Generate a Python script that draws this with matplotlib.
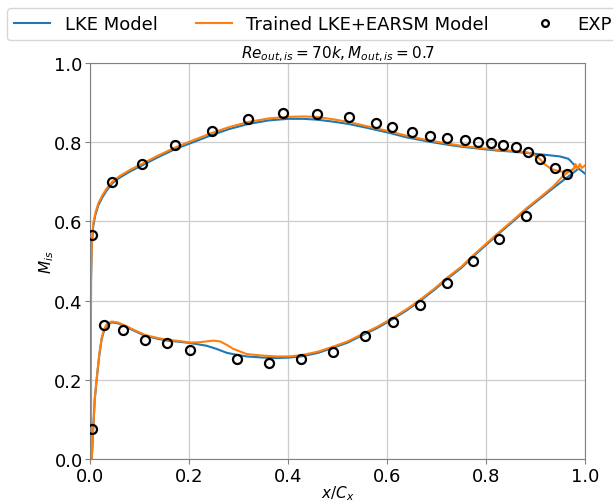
import matplotlib.pyplot as plt
import numpy as np

# suction side, LKE model
ss_lke_x = [0.003, 0.0015, 0.0012, 0.0015, 0.003, 0.006, 0.010, 0.016, 0.024, 0.033, 0.045, 0.060, 0.080,
            0.104, 0.135, 0.172, 0.210, 0.245, 0.280, 0.319, 0.360, 0.400, 0.430, 0.457, 0.490, 0.522,
            0.560, 0.599, 0.640, 0.686, 0.720, 0.754, 0.790, 0.821, 0.855, 0.888, 0.920, 0.949, 0.966,
            0.976, 0.986, 1.000]
ss_lke_y = [0.000, 0.100, 0.300, 0.450, 0.539, 0.589, 0.615, 0.640, 0.660, 0.678, 0.697, 0.711, 0.726,
            0.741, 0.761, 0.783, 0.801, 0.818, 0.833, 0.846, 0.855, 0.859, 0.859, 0.857, 0.852, 0.846,
            0.836, 0.825, 0.812, 0.801, 0.794, 0.788, 0.783, 0.779, 0.776, 0.772, 0.768, 0.764, 0.758,
            0.745, 0.734, 0.720]

# pressure side, LKE model
ps_lke_x = [0.003, 0.006, 0.009, 0.013, 0.018, 0.023, 0.028, 0.033, 0.043, 0.055, 0.067, 0.090, 0.111,
            0.135, 0.155, 0.180, 0.201, 0.235, 0.255, 0.276, 0.296, 0.316, 0.350, 0.377, 0.400, 0.426,
            0.460, 0.491, 0.520, 0.552, 0.580, 0.612, 0.640, 0.667, 0.695, 0.721, 0.750, 0.774, 0.800,
            0.826, 0.855, 0.881, 0.908, 0.935, 0.960, 0.975, 0.985]
ps_lke_y = [0.000, 0.076, 0.150, 0.202, 0.260, 0.303, 0.325, 0.337, 0.345, 0.343, 0.337, 0.323, 0.311,
            0.304, 0.299, 0.296, 0.293, 0.286, 0.278, 0.268, 0.263, 0.259, 0.256, 0.255, 0.256, 0.259,
            0.268, 0.281, 0.294, 0.314, 0.331, 0.354, 0.376, 0.400, 0.427, 0.455, 0.483, 0.512, 0.541,
            0.570, 0.601, 0.630, 0.657, 0.684, 0.708, 0.722, 0.732]

# suction side, trained LKE+EARSM
ss_tr_x = [0.003, 0.0015, 0.0012, 0.0015, 0.003, 0.006, 0.010, 0.016, 0.024, 0.033, 0.045, 0.060, 0.080,
           0.104, 0.135, 0.172, 0.210, 0.245, 0.280, 0.319, 0.360, 0.400, 0.430, 0.457, 0.490, 0.522,
           0.560, 0.599, 0.640, 0.686, 0.720, 0.754, 0.790, 0.821, 0.855, 0.884, 0.896, 0.909, 0.915,
           0.932, 0.949, 0.966, 0.976, 0.980, 0.985, 0.989, 0.993, 1.000]
ss_tr_y = [0.000, 0.100, 0.300, 0.460, 0.545, 0.595, 0.620, 0.645, 0.665, 0.683, 0.701, 0.715, 0.730,
           0.745, 0.765, 0.787, 0.806, 0.823, 0.838, 0.851, 0.860, 0.864, 0.865, 0.864, 0.858, 0.851,
           0.840, 0.829, 0.816, 0.804, 0.797, 0.790, 0.785, 0.781, 0.778, 0.774, 0.768, 0.757, 0.747,
           0.732, 0.726, 0.726, 0.731, 0.745, 0.733, 0.745, 0.735, 0.742]

# pressure side, trained LKE+EARSM
ps_tr_x = [0.003, 0.006, 0.009, 0.013, 0.018, 0.023, 0.028, 0.033, 0.043, 0.055, 0.067, 0.090, 0.111,
           0.135, 0.155, 0.180, 0.201, 0.222, 0.235, 0.249, 0.262, 0.276, 0.289, 0.316, 0.350, 0.377,
           0.400, 0.426, 0.460, 0.491, 0.520, 0.552, 0.580, 0.612, 0.640, 0.667, 0.695, 0.721, 0.750,
           0.774, 0.800, 0.826, 0.855, 0.881, 0.908, 0.935, 0.956, 0.970, 0.980]
ps_tr_y = [0.000, 0.078, 0.152, 0.205, 0.263, 0.306, 0.328, 0.340, 0.347, 0.345, 0.339, 0.325, 0.313,
           0.306, 0.301, 0.298, 0.294, 0.295, 0.297, 0.299, 0.297, 0.288, 0.278, 0.265, 0.261, 0.259,
           0.259, 0.262, 0.271, 0.284, 0.297, 0.317, 0.334, 0.357, 0.379, 0.403, 0.430, 0.458, 0.486,
           0.515, 0.544, 0.573, 0.604, 0.633, 0.660, 0.688, 0.716, 0.728, 0.736]

# experiment
exp_x = [0.003, 0.043, 0.104, 0.172, 0.245, 0.319, 0.390, 0.457, 0.522, 0.577, 0.609, 0.649, 0.686,
         0.721, 0.756, 0.783, 0.809, 0.834, 0.859, 0.884, 0.909, 0.939, 0.964,
         0.003, 0.028, 0.067, 0.111, 0.155, 0.201, 0.297, 0.361, 0.426, 0.491, 0.554, 0.612, 0.667,
         0.721, 0.774, 0.826, 0.881]
exp_y = [0.566, 0.699, 0.745, 0.794, 0.829, 0.859, 0.873, 0.871, 0.863, 0.848, 0.838, 0.826, 0.816,
         0.810, 0.805, 0.801, 0.798, 0.793, 0.787, 0.774, 0.757, 0.734, 0.719,
         0.076, 0.338, 0.326, 0.301, 0.293, 0.274, 0.253, 0.242, 0.253, 0.271, 0.310, 0.347, 0.390,
         0.444, 0.500, 0.556, 0.613]

fig = plt.figure(figsize=(6.13, 5.02), dpi=100)
ax = fig.add_axes([90.3 / 613, 1 - 460 / 502, 495 / 613, 396 / 502])

ax.plot(ss_lke_x, ss_lke_y, color="#1f77b4", lw=1.5, label="LKE Model")
ax.plot(ps_lke_x, ps_lke_y, color="#1f77b4", lw=1.5)
ax.plot(ss_tr_x, ss_tr_y, color="#ff7f0e", lw=1.5, label="Trained LKE+EARSM Model")
ax.plot(ps_tr_x, ps_tr_y, color="#ff7f0e", lw=1.5)
ax.plot(exp_x, exp_y, "o", mfc="none", mec="black", mew=1.6, ms=6.5, label="EXP", zorder=5)

ax.set_xlim(0, 1)
ax.set_ylim(0, 1)
ax.set_xticks(np.arange(0, 1.01, 0.2))
ax.set_yticks(np.arange(0, 1.01, 0.2))
ax.tick_params(labelsize=13, color="0.5")
ax.tick_params(axis="x", pad=2.5)
ax.tick_params(axis="y", pad=2)
for sp in ax.spines.values():
    sp.set_color("0.5")
ax.grid(True, color="0.8", lw=0.9)
ax.set_axisbelow(True)

ax.set_title(r"$Re_{out,is}=70k, M_{out,is}=0.7$", fontsize=11, pad=3)
ax.set_xlabel(r"$x/C_x$", fontsize=11, labelpad=-1.5)
ax.set_ylabel(r"$M_{is}$", fontsize=11, labelpad=-1)

fig.legend(loc="upper left", bbox_to_anchor=(7 / 613, 1 - 9 / 502), ncol=3, fontsize=13,
           borderaxespad=0, markerscale=0.75, columnspacing=2.1)

fig.savefig("out.png", dpi=100)
